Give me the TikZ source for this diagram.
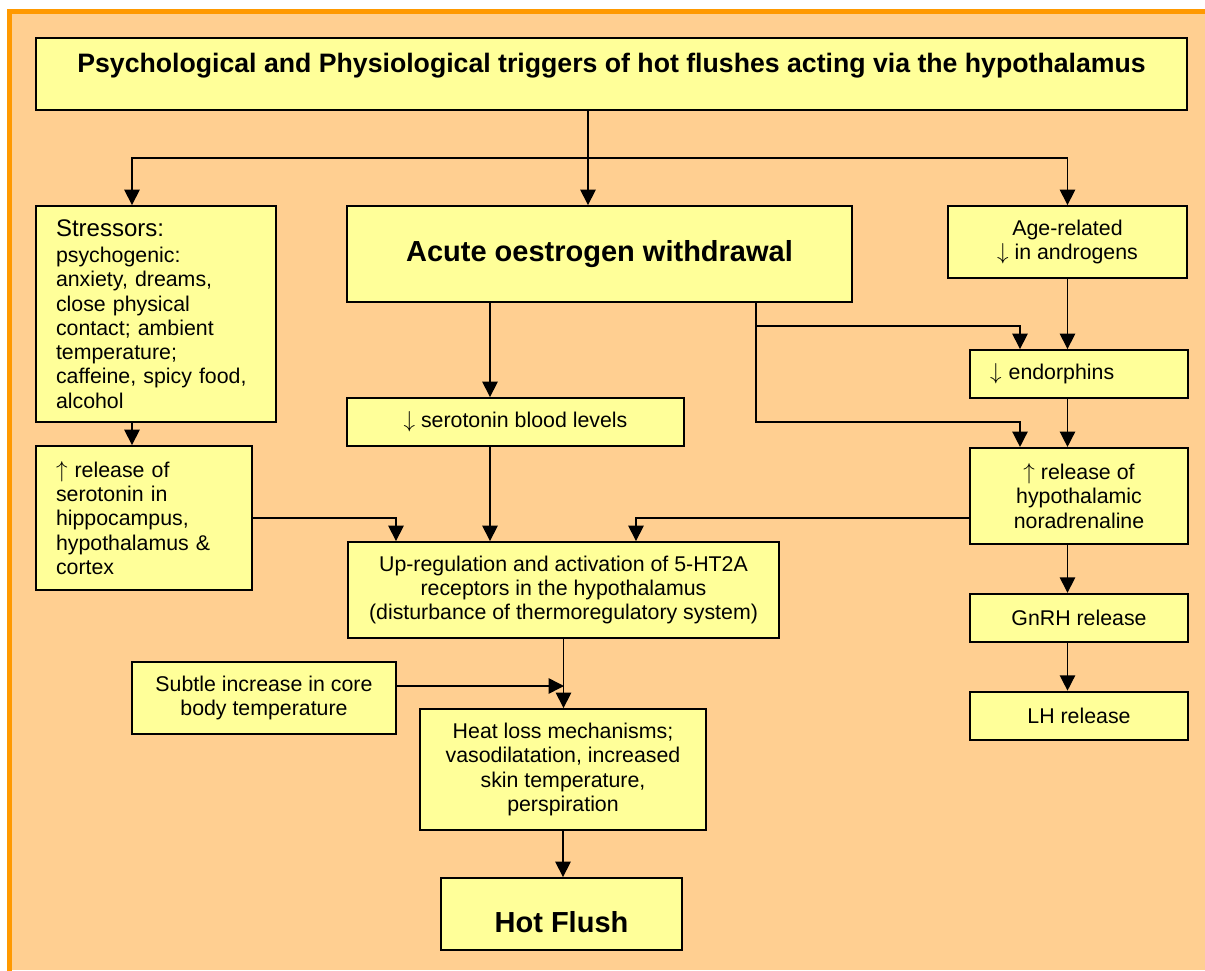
\documentclass[tikz,border=0pt]{standalone}
\usepackage{fontspec}
\setmainfont{Liberation Sans}
\usetikzlibrary{positioning, arrows.meta}
\definecolor{peach}{RGB}{255,207,145}
\definecolor{lemon}{RGB}{255,255,153}
\definecolor{rim}{RGB}{255,153,0}
\newcommand{\nrmfont}{\fontsize{16}{18.2}\selectfont}
\newcommand{\ttlfont}{\fontsize{20}{23}\selectfont\bfseries}
\newcommand{\bldfont}{\fontsize{21.75}{25}\selectfont\bfseries}
\newcommand{\dn}{$\downarrow$}
\newcommand{\upw}{$\uparrow$}

\begin{document}
\begin{tikzpicture}[x=0.75pt, y=-0.75pt, >={Triangle[length=11.5pt, width=11.5pt]},
	box/.style={draw, fill=lemon, line width=1.4pt, inner sep=0pt, font=\nrmfont, align=center},
	link/.style={->, line width=1.1pt}]
		\useasboundingbox (0,0) rectangle (1205,970);
		\fill[peach] (9.5,11.5) rectangle (1205,970);
		\draw[rim, line width=3.75pt] (9.5,975) -- (9.5,11.5) -- (1210,11.5);

		\node[box, minimum width=863.25pt, minimum height=54pt, font=\ttlfont, text height=12pt, text depth=13.5pt] (trig) at (611.5,74) {Psychological and Physiological triggers of hot flushes acting via the hypothalamus};
		\node[box, minimum width=180pt, minimum height=162pt, text width=150pt, align=left] (stress) at (156,314) {{\fontsize{18}{20}\selectfont Stressors:}\\[1.5pt] psychogenic:\\ anxiety, dreams,\\ close physical\\ contact; ambient\\ temperature;\\ caffeine, spicy food,\\ alcohol};
		\node[box, minimum width=378.75pt, minimum height=72pt, font=\bldfont] (oestr) at (599.5,254) {Acute oestrogen withdrawal};
		\node[box, minimum width=179.25pt, minimum height=54pt] (age) at (1067.5,242) {Age-related\\ \dn\ in androgens};
		\node[box, minimum width=163.5pt, minimum height=36pt, text width=133.5pt, align=left] (endo) at (1079,374) {\dn\ endorphins};
		\node[box, below = 36pt of endo, minimum width=163.5pt, minimum height=72pt] (nora) {\upw\ release of\\ hypothalamic\\ noradrenaline};
		\node[box, below = 36pt of nora, minimum width=163.5pt, minimum height=36pt] (gnrh) {GnRH release};
		\node[box, below = 36pt of gnrh, minimum width=163.5pt, minimum height=36pt] (lh) {LH release};
		\node[box, minimum width=252.75pt, minimum height=36pt] (serblood) at (515.5,422) {\dn\ serotonin blood levels};
		\node[box, minimum width=162pt, minimum height=108pt, text width=132pt, align=left] (release) at (144,518) {\upw\ release of\\ serotonin in\\ hippocampus,\\ hypothalamus \&\\ cortex};
		\node[box, minimum width=323.25pt, minimum height=72pt] (upreg) at (563.5,590) {Up-regulation and activation of 5-HT2A\\ receptors in the hypothalamus\\ (disturbance of thermoregulatory system)};
		\node[box, minimum width=198pt, minimum height=54pt] (subtle) at (264,698) {Subtle increase in core\\ body temperature};
		\node[box, minimum width=214.5pt, minimum height=90.75pt] (heat) at (563,769.5) {Heat loss mechanisms;\\ vasodilatation, increased\\ skin temperature,\\ perspiration};
		\node[box, minimum width=180.75pt, minimum height=54pt, font=\bldfont, text height=29pt, text depth=1.6pt] (hot) at (561.5,914) {Hot Flush};

		% branch points
		\coordinate (tsplit) at (588,158);
		\coordinate (lcol) at (132,158);
		\coordinate (obr) at (756,326);
		\coordinate (endx) at (1020,326);
		\coordinate (norx) at (1020,422);
		\coordinate (sbx) at (490,0);
		\coordinate (lin) at (396,518);
		\coordinate (rin) at (636,518);
		\coordinate (sin) at (564,686);

		\draw[link] (trig.south -| tsplit) -- (oestr.north -| tsplit);
		\draw[link] (tsplit) -- (lcol) -- (lcol |- stress.north);
		\draw[link] (tsplit) -| (age.north);
		\draw[link] (stress.south -| lcol) -- (release.north -| lcol);
		\draw[link] (oestr.south -| sbx) -- (serblood.north -| sbx);
		\draw[link] (oestr.south -| obr) |- (endx) -- (endx |- endo.north);
		\draw[link] (obr) |- (norx) -- (norx |- nora.north);
		\draw[link] (age.south) -- (age.south |- endo.north);
		\draw[link] (endo.south -| age.south) -- (nora.north -| age.south);
		\draw[link] (nora.south -| age.south) -- (gnrh.north -| age.south);
		\draw[link] (gnrh.south -| age.south) -- (lh.north -| age.south);
		\draw[link] (release.east) -- (lin) -- (lin |- upreg.north);
		\draw[link] (serblood.south -| sbx) -- (upreg.north -| sbx);
		\draw[link] (nora.west |- rin) -- (rin) -- (rin |- upreg.north);
		\draw[link] (upreg.south) -- (upreg.south |- heat.north);
		\draw[link] (subtle.east |- sin) -- (sin);
		\draw[link] (heat.south) -- (heat.south |- hot.north);
	\end{tikzpicture}
\end{document}
